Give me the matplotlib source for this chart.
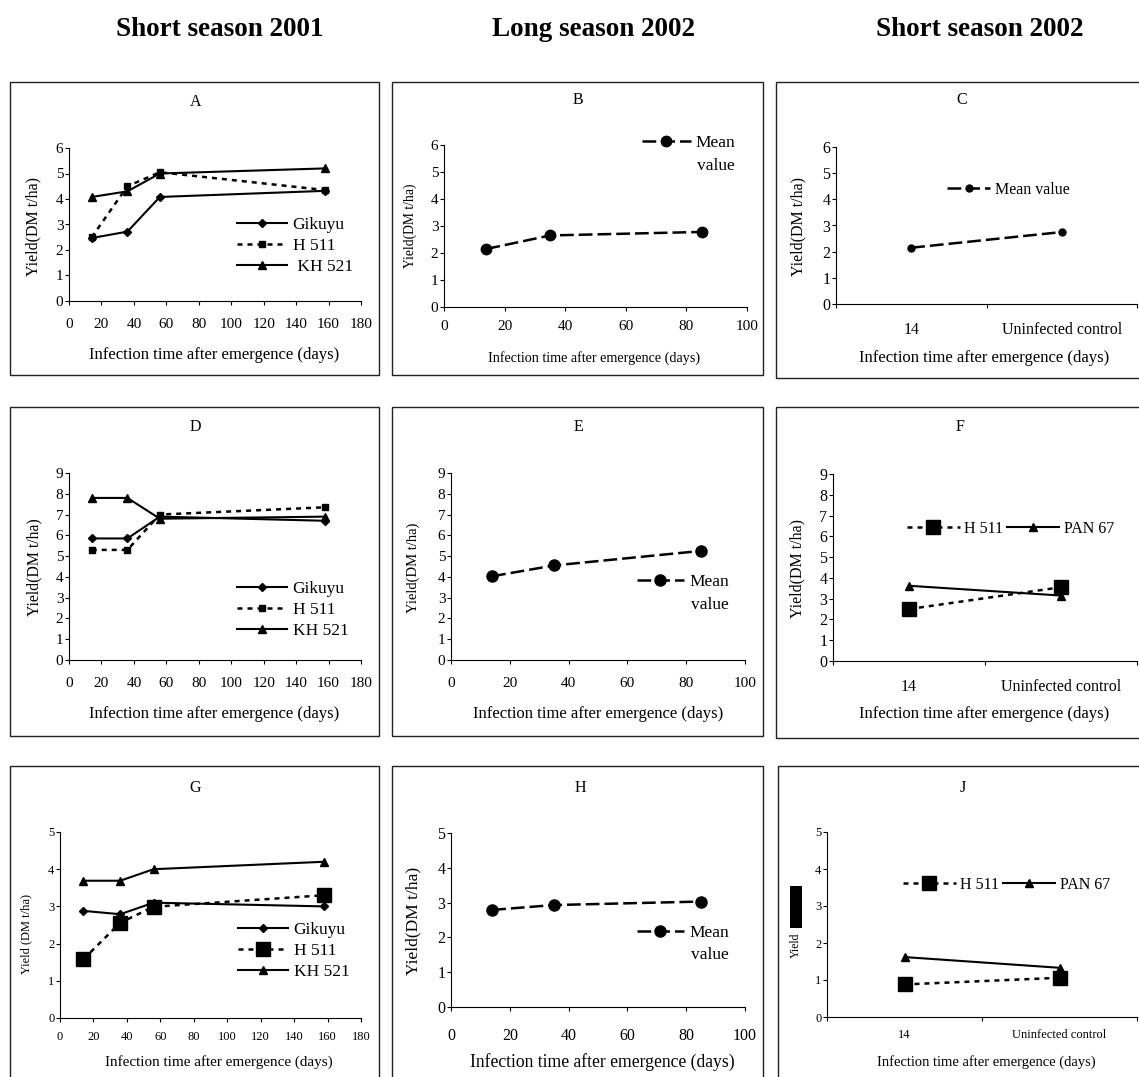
import numpy as np
import matplotlib
matplotlib.use('Agg')
import matplotlib.pyplot as plt
from matplotlib.patches import Rectangle

plt.rcParams.update({
    'font.family': 'Liberation Serif',
    'axes.linewidth': 0.8,
})

# ---- data ----
days_ss01 = [14, 36, 56, 158]          # short season 2001
days_ls02 = [14, 35, 85]               # long season 2002
ss02_cats = ['14', 'Uninfected control']  # short season 2002

a_gikuyu = [2.47, 2.72, 4.08, 4.32]
a_h511 = [2.5, 4.5, 5.05, 4.35]
a_kh521 = [4.08, 4.3, 5.0, 5.2]
b_mean = [2.15, 2.65, 2.78]
c_mean = [2.15, 2.75]

d_gikuyu = [5.85, 5.85, 6.9, 6.7]
d_h511 = [5.3, 5.3, 7.0, 7.35]
d_kh521 = [7.8, 7.8, 6.8, 6.9]
e_mean = [4.03, 4.55, 5.25]
f_h511 = [2.5, 3.55]
f_pan67 = [3.62, 3.15]

g_gikuyu = [2.88, 2.79, 3.1, 3.0]
g_h511 = [1.58, 2.56, 2.99, 3.3]
g_kh521 = [3.69, 3.69, 4.0, 4.2]
h_mean = [2.79, 2.93, 3.03]
j_h511 = [0.88, 1.06]
j_pan67 = [1.62, 1.33]

column_titles = ['Short season 2001', 'Long season 2002', 'Short season 2002']
xlab = 'Infection time after emergence (days)'
ylab = 'Yield(DM t/ha)'

W, H = 1139, 1077
fig = plt.figure(figsize=(W / 100, H / 100), dpi=100)

DOT = (0, (2, 2))
DASH = (0, (5.5, 2))


def fx(px):
    return px / W


def fy(py):
    return 1 - py / H


def frame(x0, y0, x1, y1):
    fig.patches.append(Rectangle((fx(x0), fy(y1)), (x1 - x0) / W, (y1 - y0) / H,
                                 transform=fig.transFigure, fill=False,
                                 edgecolor='#222222', lw=1.0))


def panel_axes(x0, x1, ytop, ybot, xlim, ylim, tick_fs, xpad, cats=None):
    ax = fig.add_axes([fx(x0), fy(ybot), (x1 - x0) / W, (ybot - ytop) / H])
    ax.set_xlim(xlim)
    ax.set_ylim(ylim)
    ax.patch.set_visible(False)
    for s in ['top', 'right']:
        ax.spines[s].set_visible(False)
    ax.set_yticks(np.arange(ylim[0], ylim[1] + 1))
    ax.tick_params(direction='out', length=3, width=0.8, labelsize=tick_fs)
    ax.tick_params(axis='x', pad=xpad)
    ax.tick_params(axis='y', pad=1)
    if cats is not None:
        # category axis: ticks on the boundaries, labels in between
        ax.set_xticks(np.arange(len(cats) + 1))
        ax.set_xticklabels([])
        ax.set_xticks(np.arange(len(cats)) + 0.5, minor=True)
        ax.set_xticklabels(cats, minor=True)
        ax.tick_params(axis='x', which='minor', length=0, pad=xpad + 3, labelsize=tick_fs)
    return ax


def labels(ax, xl, xfs, xpos, yl, yfs, ypos):
    ax.set_xlabel(xl, fontsize=xfs)
    ax.xaxis.set_label_coords(fx(xpos[0]), fy(xpos[1]), transform=fig.transFigure)
    ax.xaxis.label.set_va('center')
    if yl:
        ax.set_ylabel(yl, fontsize=yfs)
        ax.yaxis.set_label_coords(fx(ypos[0]), fy(ypos[1]), transform=fig.transFigure)
        ax.yaxis.label.set_va('center')


def legend(ax, handles, names, left, cy, fs, hl, htp=0.3, ls=0.3, ncol=1, cs=0.3):
    ax.legend(handles, names, loc='center left', bbox_to_anchor=(fx(left), fy(cy)),
              bbox_transform=fig.transFigure, frameon=False, fontsize=fs,
              handlelength=hl, handletextpad=htp, labelspacing=ls, ncol=ncol,
              columnspacing=cs, borderpad=0, borderaxespad=0)


# column headers
for t, cx in zip(column_titles, [220, 593, 980]):
    fig.text(fx(cx), fy(30), t, ha='center', va='center', fontsize=19.5, fontweight='bold')

# panel frames
for x0, x1 in [(10, 379), (392, 763)]:
    frame(x0, 82, x1, 375)
    frame(x0, 407, x1, 736)
    frame(x0, 766, x1, 1085)
frame(776, 82, 1145, 378)
frame(776, 407, 1145, 738)
frame(778, 766, 1145, 1085)

# panel letters
for letter, cx, cy in [('A', 196, 102), ('B', 578, 100), ('C', 962, 100),
                       ('D', 195, 427), ('E', 578, 427), ('F', 960, 427),
                       ('G', 195, 788), ('H', 580, 788), ('J', 963, 788)]:
    fig.text(fx(cx), fy(cy), letter, ha='center', va='center', fontsize=11.5)

cat_x = np.arange(len(ss02_cats)) + 0.5

# ---------- A ----------
ax = panel_axes(69, 361, 148, 301, (0, 180), (0, 6), 11, 9.5)
ax.set_xticks(np.arange(0, 181, 20))
l1, = ax.plot(days_ss01, a_gikuyu, color='k', lw=1.5, marker='D', ms=4.5, clip_on=False)
l2, = ax.plot(days_ss01, a_h511, color='k', lw=1.8, ls=DOT, marker='s', ms=5, clip_on=False)
l3, = ax.plot(days_ss01, a_kh521, color='k', lw=1.5, marker='^', ms=6, clip_on=False)
legend(ax, [l1, l2, l3], ['Gikuyu', 'H 511', ' KH 521'], 237, 246, 12.5, 2.9)
labels(ax, xlab, 12, (214, 355), ylab, 11.5, (33, 227))

# ---------- B ----------
ax = panel_axes(444, 747, 145, 307, (0, 100), (0, 6), 11, 6)
ax.set_xticks(np.arange(0, 101, 20))
l1, = ax.plot(days_ls02, b_mean, color='k', lw=1.8, ls=DASH, marker='o', ms=7.5, clip_on=False)
legend(ax, [l1], ['Mean'], 642, 143, 12.5, 2.8)
fig.text(fx(697), fy(166), 'value', ha='left', va='center', fontsize=12.5)
labels(ax, xlab, 10.2, (594, 358), ylab, 9.8, (410, 226))

# ---------- C ----------
ax = panel_axes(836, 1137, 147, 304, (0, 2), (0, 6), 11.5, 10, cats=ss02_cats)
l1, = ax.plot(cat_x, c_mean, color='k', lw=1.8, ls=DASH, marker='o', ms=5, clip_on=False)
legend(ax, [l1], ['Mean value'], 947, 190, 11.5, 2.7)
labels(ax, xlab, 12, (984, 358), ylab, 11.5, (798, 227))

# ---------- D ----------
ax = panel_axes(69, 361, 473, 660, (0, 180), (0, 9), 11, 9.5)
ax.set_xticks(np.arange(0, 181, 20))
l1, = ax.plot(days_ss01, d_gikuyu, color='k', lw=1.5, marker='D', ms=4.5, clip_on=False)
l2, = ax.plot(days_ss01, d_h511, color='k', lw=1.8, ls=DOT, marker='s', ms=5, clip_on=False)
l3, = ax.plot(days_ss01, d_kh521, color='k', lw=1.5, marker='^', ms=6, clip_on=False)
legend(ax, [l1, l2, l3], ['Gikuyu', 'H 511', 'KH 521'], 237, 610, 12.5, 2.9)
labels(ax, xlab, 12, (214, 714), ylab, 11.3, (34, 567))

# ---------- E ----------
ax = panel_axes(451, 745, 473, 660, (0, 100), (0, 9), 11, 9.5)
ax.set_xticks(np.arange(0, 101, 20))
l1, = ax.plot(days_ls02, e_mean, color='k', lw=1.8, ls=DASH, marker='o', ms=8, clip_on=False)
legend(ax, [l1], ['Mean'], 637, 582, 12.5, 2.7)
fig.text(fx(691), fy(605), 'value', ha='left', va='center', fontsize=12.5)
labels(ax, xlab, 12, (598, 714), ylab, 10.5, (413, 568))

# ---------- F ----------
ax = panel_axes(833, 1137, 474, 661, (0, 2), (0, 9), 11.5, 10, cats=ss02_cats)
l1, = ax.plot(cat_x, f_h511, color='k', lw=1.8, ls=DOT, marker='s', ms=10, clip_on=False)
l2, = ax.plot(cat_x, f_pan67, color='k', lw=1.5, marker='^', ms=5.5, clip_on=False)
legend(ax, [l1, l2], ['H 511', 'PAN 67'], 907, 529, 11.5, 3.3, ncol=2, cs=0.2)
labels(ax, xlab, 12, (984, 714), ylab, 11.5, (797, 569))

# ---------- G ----------
ax = panel_axes(60, 361, 832, 1018, (0, 180), (0, 5), 9, 6)
ax.set_xticks(np.arange(0, 181, 20))
l1, = ax.plot(days_ss01, g_gikuyu, color='k', lw=1.5, marker='D', ms=4.5, clip_on=False)
l2, = ax.plot(days_ss01, g_h511, color='k', lw=1.8, ls=DOT, marker='s', ms=10, clip_on=False)
l3, = ax.plot(days_ss01, g_kh521, color='k', lw=1.5, marker='^', ms=6, clip_on=False)
legend(ax, [l1, l2, l3], ['Gikuyu', 'H 511', 'KH 521'], 238, 951, 12.5, 2.9)
labels(ax, xlab, 10.9, (219, 1062), 'Yield (DM t/ha)', 9, (26, 934))

# ---------- H ----------
ax = panel_axes(451, 745, 833, 1007, (0, 100), (0, 5), 11.5, 12)
ax.set_xticks(np.arange(0, 101, 20))
l1, = ax.plot(days_ls02, h_mean, color='k', lw=1.8, ls=DASH, marker='o', ms=8, clip_on=False)
legend(ax, [l1], ['Mean'], 637, 933, 12.5, 2.7)
fig.text(fx(691), fy(955), 'value', ha='left', va='center', fontsize=12.5)
labels(ax, xlab, 12.7, (602, 1062), ylab, 12.5, (413, 921))

# ---------- J ----------
ax = panel_axes(827, 1137, 832, 1017, (0, 2), (0, 5), 9, 6, cats=ss02_cats)
l1, = ax.plot(cat_x, j_h511, color='k', lw=1.8, ls=DOT, marker='s', ms=10, clip_on=False)
l2, = ax.plot(cat_x, j_pan67, color='k', lw=1.5, marker='^', ms=5.5, clip_on=False)
legend(ax, [l1, l2], ['H 511', 'PAN 67'], 903, 885, 11.5, 3.3, ncol=2, cs=0.2)
labels(ax, xlab, 10.5, (986, 1062), 'Yield', 8.5, (796, 945))
# the axis title in the source is partly blacked out
fig.patches.append(Rectangle((fx(790), fy(928)), 12 / W, 42 / H, transform=fig.transFigure,
                             facecolor='black', edgecolor='none'))

fig.savefig('out.png', dpi=100)
